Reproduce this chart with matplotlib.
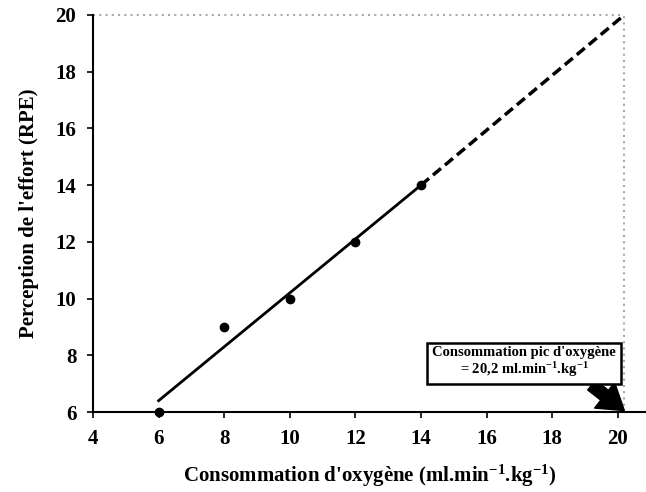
import matplotlib
matplotlib.use("Agg")
import matplotlib.pyplot as plt
import numpy as np

plt.rcParams['font.family'] = ['Liberation Serif', 'DejaVu Serif']
plt.rcParams['font.weight'] = 'bold'
plt.rcParams['mathtext.fontset'] = 'custom'
plt.rcParams['mathtext.rm'] = 'Liberation Serif:bold'
plt.rcParams['mathtext.it'] = 'Liberation Serif:italic:bold'
plt.rcParams['mathtext.bf'] = 'Liberation Serif:bold'
plt.rcParams['mathtext.default'] = 'rm'

vo2 = [6, 8, 10, 12, 14]
rpe = [6, 9, 10, 12, 14]
vo2_peak = 20.2
rpe_max = 20
xticks = [4, 6, 8, 10, 12, 14, 16, 18, 20]
yticks = [6, 8, 10, 12, 14, 16, 18, 20]

slope, intercept = np.polyfit(vo2, rpe, 1)

fig = plt.figure(figsize=(6.46, 4.92), dpi=100)
ax = fig.add_axes([0.144, 0.1626, 0.856, 0.807])

# dotted reference lines
ax.plot([4, vo2_peak], [rpe_max, rpe_max], color='#aaaaaa', ls=(0, (1, 2)), lw=1.5, clip_on=False)
ax.plot([vo2_peak, vo2_peak], [6, rpe_max], color='#aaaaaa', ls=(0, (1, 2)), lw=1.5, clip_on=False)

# regression line (solid) and extrapolation (dashed)
xs = np.array([vo2[0], vo2[-1]])
ax.plot(xs, slope * xs + intercept, color='black', lw=2)
ax.plot([vo2[-1], vo2_peak], [slope * vo2[-1] + intercept, rpe_max], color='black', lw=2.5, ls=(0, (3, 1.5)))

ax.plot(vo2, rpe, 'o', color='black', ms=6, clip_on=False, zorder=5)

ax.set_xlim(4, 20.86)
ax.set_ylim(6, 20)
ax.set_xticks(xticks)
ax.set_yticks(yticks)
ax.tick_params(direction='out', length=4, width=1.2, labelsize=15, pad=8)
for lab in ax.get_xticklabels() + ax.get_yticklabels():
    lab.set_fontweight('bold')
ax.spines['top'].set_visible(False)
ax.spines['right'].set_visible(False)
ax.spines['left'].set_linewidth(1.5)
ax.spines['bottom'].set_linewidth(1.5)

ax.set_xlabel("Consommation d'oxygène (ml.min$^{-1}$.kg$^{-1}$)", fontsize=15, fontweight='bold', labelpad=10)
ax.set_ylabel("Perception de l'effort (RPE)", fontsize=15, fontweight='bold', labelpad=12)

ax.annotate("", xy=(vo2_peak, 6.05), xytext=(19.2, 6.95),
            arrowprops=dict(arrowstyle="simple,head_width=1.3,head_length=1.0,tail_width=0.5",
                            color='black', mutation_scale=18, shrinkA=0, shrinkB=0))
ax.text(17.14, 7.75, "Consommation pic d'oxygène\n= 20,2 ml.min$^{-1}$.kg$^{-1}$",
        ha='center', va='center', fontsize=10.5, fontweight='bold', linespacing=1.1,
        bbox=dict(boxstyle='square,pad=0.35', facecolor='white', edgecolor='black', lw=1.8), zorder=6)

fig.savefig("out.png", dpi=100)
